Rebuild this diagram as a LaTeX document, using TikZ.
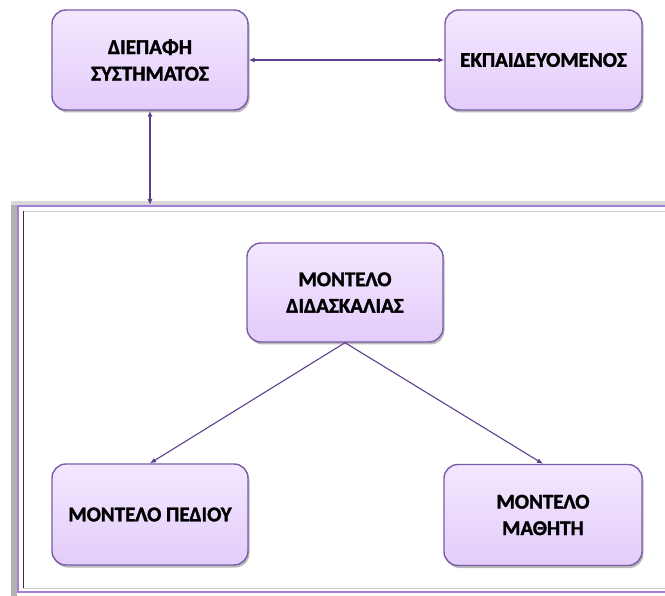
\documentclass[tikz,border=0pt]{standalone}
\usepackage{fontspec}
\setmainfont{Carlito}[BoldFont={Carlito Bold}, BoldFeatures={FakeBold=1.6}]
\usetikzlibrary{shadows,arrows.meta}
\definecolor{boxfillA}{HTML}{F3E8FF}
\definecolor{boxfillB}{HTML}{E3CCFA}
\definecolor{boxline}{HTML}{7A5CA6}
\definecolor{arrowc}{HTML}{5E3F8E}
\definecolor{framec}{HTML}{A27FD2}
\tikzset{
  mbox/.style={rectangle, rounded corners=14pt, draw=boxline, line width=1.4pt,
    top color=boxfillA, bottom color=boxfillB,
    drop shadow={shadow xshift=1.5pt, shadow yshift=-2.5pt, opacity=.45, fill=black!60},
    minimum width=196pt, minimum height=100pt, align=center, inner sep=0pt,
    font=\fontsize{21}{26.5}\selectfont\bfseries, text=black},
  link/.style={draw=arrowc, line width=1.1pt, {Latex[length=6pt,width=5pt]}-{Latex[length=6pt,width=5pt]}},
  onearrow/.style={draw=arrowc, line width=1.1pt, -{Latex[length=6pt,width=5pt]}}
}
\begin{document}
\begin{tikzpicture}[x=1pt,y=-1pt]
\useasboundingbox (0,0) rectangle (665,596);
\fill[white] (0,0) rectangle (665,596);
% frame
\fill[black!30] (11,201) rectangle (17,596);
\fill[black!15] (11,201) rectangle (665,205);
\draw[framec, line width=1.6pt] (18,206) rectangle (672,592);
\draw[black!20, line width=0.8pt] (23,211) rectangle (672,588);
\draw[black!80, line width=0.9pt] (23,211) -- (23,588);
% boxes
\node[mbox] (n1) at (150,60) {ΔΙΕΠΑΦΗ\\ΣΥΣΤΗΜΑΤΟΣ};
\node[mbox, minimum width=197pt] (n2) at (543.5,60) {ΕΚΠΑΙΔΕΥΟΜΕΝΟΣ};
\node[mbox, minimum height=99pt] (n3) at (345,292.5) {ΜΟΝΤΕΛΟ\\ΔΙΔΑΣΚΑΛΙΑΣ};
\node[mbox, minimum height=101pt] (n4) at (150,514.5) {ΜΟΝΤΕΛΟ ΠΕΔΙΟΥ};
\node[mbox, minimum width=198pt, minimum height=101pt] (n5) at (543,515) {ΜΟΝΤΕΛΟ\\ΜΑΘΗΤΗ};
\coordinate (ftop) at (150,205);
% connectors
\draw[link] (n1.east) -- (n2.west);
\draw[link] (n1.south) -- (ftop);
\draw[onearrow] (n3.south) -- (n4.north);
\draw[onearrow] (n3.south) -- (n5.north);
\end{tikzpicture}
\end{document}
